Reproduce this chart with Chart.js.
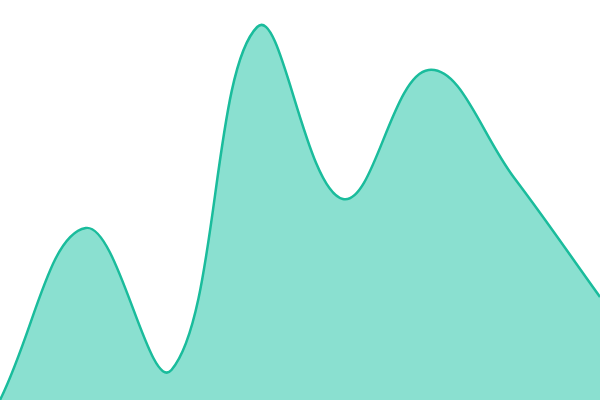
<!DOCTYPE html>
<html>
<head>
<meta charset="utf-8">
<script src="https://cdn.jsdelivr.net/npm/chart.js@4"></script>
<style>
  html, body { margin: 0; padding: 0; background: #fff; }
  #wrap { width: 600px; height: 400px; }
</style>
</head>
<body>
<div id="wrap"><canvas id="chart"></canvas></div>
<script>
const labels = ["1", "2", "3", "4", "5", "6", "7", "8"];
const values = [0, 172, 30, 373, 201, 330, 222, 103];

new Chart(document.getElementById("chart"), {
  type: "line",
  data: {
    labels: labels,
    datasets: [
      {
        data: values,
        borderColor: "#1abc9c",
        backgroundColor: "rgba(21, 193, 161, 0.5)",
        borderWidth: 2.5,
        fill: true,
        tension: 0.4,
        pointRadius: 0,
      },
    ],
  },
  options: {
    responsive: true,
    maintainAspectRatio: false,
    animation: false,
    layout: { padding: 0 },
    scales: {
      x: { display: false },
      y: { display: false, min: 0, max: 400 },
    },
    plugins: {
      legend: { display: false },
      tooltip: { enabled: false },
    },
  },
});
</script>
</body>
</html>
